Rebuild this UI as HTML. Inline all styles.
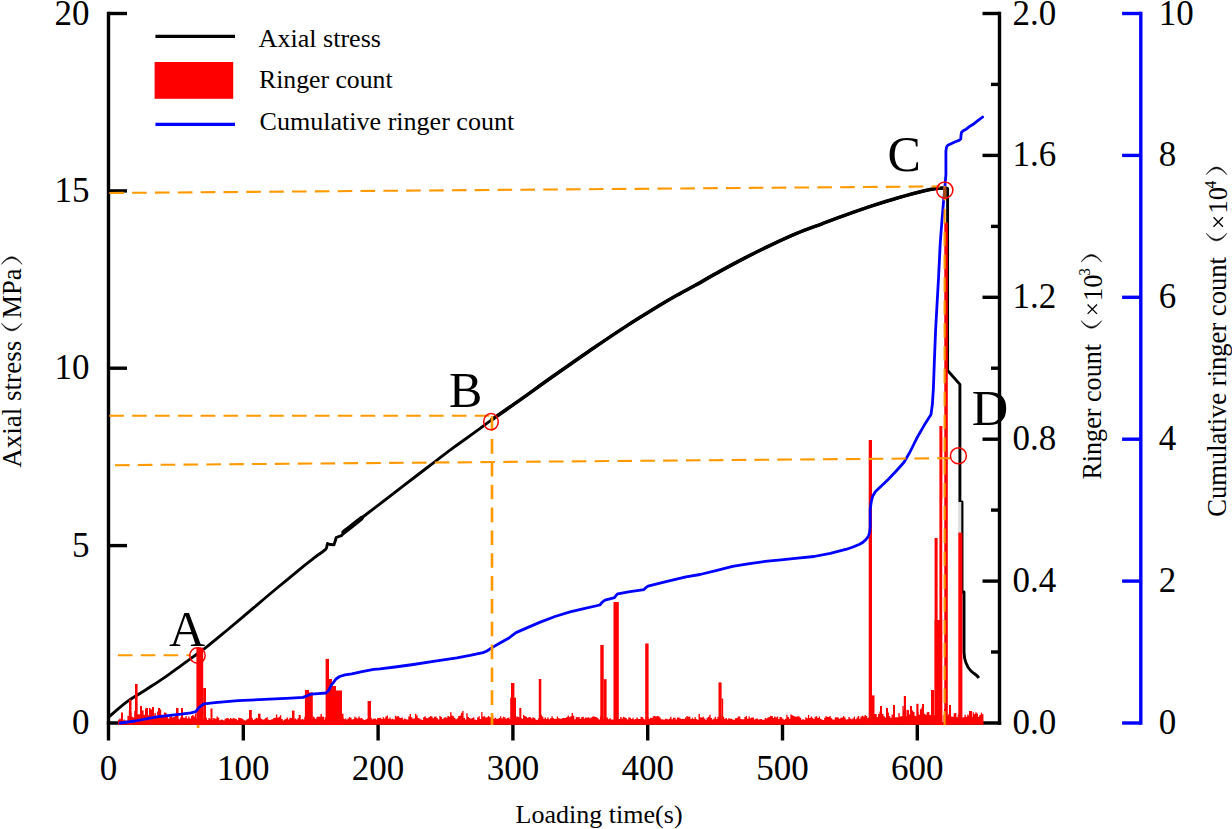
<!DOCTYPE html>
<html lang="en">
<head>
<meta charset="utf-8">
<title>Axial stress and ringer count vs loading time</title>
<style>html,body{margin:0;padding:0;background:#fff;}body{width:1232px;height:829px;overflow:hidden;font-family:"Liberation Serif",serif;}svg{display:block;}</style>
</head>
<body>
<svg width="1232" height="829" viewBox="0 0 1232 829" role="img" aria-label="Axial stress, ringer count and cumulative ringer count versus loading time">
<rect width="1232" height="829" fill="#fff"/>
<path d="M343.6 532.4L350.7 526.9L356 522.6L361.5 518.2" fill="none" stroke="#000" stroke-width="4.6" stroke-linecap="round"/>
<path d="M490.9 420.3C495.1 417.4 506.0 409.9 516.2 402.6C526.5 395.4 540.3 385.3 552.4 376.8C564.5 368.3 576.5 359.8 588.6 351.5C600.7 343.2 612.7 334.9 624.8 327.1C636.9 319.3 651.8 310.2 661.0 304.6C670.2 299.0 674.3 296.8 680.0 293.6C685.7 290.4 688.5 289.1 695.3 285.3C702.1 281.5 712.2 275.5 720.7 270.9C729.2 266.2 737.5 261.8 746.0 257.4C754.5 253.0 762.9 248.8 771.4 244.8C779.9 240.8 788.3 236.9 796.7 233.4C805.1 229.9 813.5 227.0 822.0 223.8C830.5 220.6 838.9 217.4 847.4 214.4C855.9 211.4 864.2 208.5 872.7 205.7C881.2 202.9 889.7 200.2 898.1 197.8C906.5 195.4 917.1 192.5 923.4 191.0C929.7 189.5 932.3 189.1 936.0 188.6C939.7 188.1 944.2 188.1 945.8 188.0" fill="none" stroke="#000" stroke-width="3.5" stroke-linejoin="round"/>
<path d="M108.5 717.2C111.6 714.6 121.0 706.1 127.1 701.6C133.2 697.1 139.2 694.1 145.2 690.2C151.2 686.3 157.3 682.5 163.3 678.4C169.3 674.2 176.3 669.0 181.4 665.3C186.5 661.6 189.6 659.5 194.1 656.2C198.6 652.9 203.2 649.7 208.6 645.4C214.0 641.1 219.1 636.8 226.7 630.5C234.3 624.2 245.5 614.6 254.1 607.4C262.7 600.1 270.2 593.7 278.3 587.0C286.4 580.3 296.4 572.1 302.4 567.2C308.4 562.3 310.6 560.5 314.4 557.6C318.2 554.7 323.5 551.1 325.3 549.8L326.5 548.0L327.5 543.5L330.0 544.5L334.0 544.8L335.2 541.0L336.2 537.5L342.0 535.3L343.5 533.0L344.9 530.3L350.7 526.7C352.5 525.2 356.6 521.8 361.5 518.0C366.4 514.2 373.1 509.1 380.0 503.8C386.9 498.5 394.7 492.4 402.7 486.3C410.7 480.2 419.6 473.4 428.0 467.0C436.4 460.6 444.9 454.0 453.4 447.7C461.9 441.4 472.6 434.0 478.8 429.4C485.1 424.8 484.7 424.8 490.9 420.3C497.1 415.8 506.0 409.9 516.2 402.6C526.5 395.4 540.3 385.3 552.4 376.8C564.5 368.3 576.5 359.8 588.6 351.5C600.7 343.2 612.7 334.9 624.8 327.1C636.9 319.3 651.8 310.2 661.0 304.6C670.2 299.0 674.3 296.8 680.0 293.6C685.7 290.4 688.5 289.1 695.3 285.3C702.1 281.5 712.2 275.5 720.7 270.9C729.2 266.2 737.5 261.8 746.0 257.4C754.5 253.0 762.9 248.8 771.4 244.8C779.9 240.8 788.3 236.9 796.7 233.4C805.1 229.9 813.5 227.0 822.0 223.8C830.5 220.6 838.9 217.4 847.4 214.4C855.9 211.4 864.2 208.5 872.7 205.7C881.2 202.9 889.7 200.2 898.1 197.8C906.5 195.4 917.1 192.5 923.4 191.0C929.7 189.5 932.3 189.1 936.0 188.6C939.7 188.1 944.2 188.1 945.8 188.0L947.6 188.4L947.6 370.5L959.9 384.4L959.9 502L962.0 502L962.0 592L964 592L964 652C964.3 661 967 667 971 671C974 674 977 674.5 978.8 678" fill="none" stroke="#000" stroke-width="2.9" stroke-linejoin="round"/>
<rect x="958.2" y="502" width="3.1" height="31" fill="#dcdcdc"/>
<g stroke="#000" stroke-width="3.4" fill="none" stroke-linecap="butt">
<path d="M108.5 11.8L108.5 740.5"/>
<path d="M106.8 723.0L1001.2 723.0"/>
<path d="M999.5 11.8L999.5 724.7"/>
<path d="M108.5 545.6L127.0 545.6"/>
<path d="M108.5 368.2L127.0 368.2"/>
<path d="M108.5 190.9L127.0 190.9"/>
<path d="M108.5 13.5L127.0 13.5"/>
<path d="M243.3 723.0L243.3 740.5"/>
<path d="M378.1 723.0L378.1 740.5"/>
<path d="M512.9 723.0L512.9 740.5"/>
<path d="M647.7 723.0L647.7 740.5"/>
<path d="M782.5 723.0L782.5 740.5"/>
<path d="M917.3 723.0L917.3 740.5"/>
<path d="M991.0 652.0L999.5 652.0"/>
<path d="M982.5 581.1L999.5 581.1"/>
<path d="M991.0 510.1L999.5 510.1"/>
<path d="M982.5 439.2L999.5 439.2"/>
<path d="M991.0 368.2L999.5 368.2"/>
<path d="M982.5 297.3L999.5 297.3"/>
<path d="M991.0 226.4L999.5 226.4"/>
<path d="M982.5 155.4L999.5 155.4"/>
<path d="M991.0 84.4L999.5 84.4"/>
<path d="M982.5 13.5L999.5 13.5"/>
</g>
<g stroke="#0000ff" stroke-width="3.4" fill="none">
<path d="M1140.8 11.8L1140.8 724.7"/>
<path d="M1122.1 723.0L1140.8 723.0"/>
<path d="M1122.1 581.1L1140.8 581.1"/>
<path d="M1122.1 439.2L1140.8 439.2"/>
<path d="M1122.1 297.3L1140.8 297.3"/>
<path d="M1122.1 155.4L1140.8 155.4"/>
<path d="M1122.1 13.5L1140.8 13.5"/>
</g>
<g fill="#ff0000"><path d="M118 724.7L118.0 719.8 L119.3 719.8L119.3 718.5 L120.7 718.5L120.7 719.3 L122.0 719.3L122.0 720.4 L123.4 720.4L123.4 719.5 L124.7 719.5L124.7 720.5 L126.1 720.5L126.1 720.8 L127.4 720.8L127.4 716.0 L128.8 716.0L128.8 710.8 L130.1 710.8L130.1 712.4 L131.5 712.4L131.5 716.7 L132.8 716.7L132.8 717.5 L134.2 717.5L134.2 711.1 L135.5 711.1L135.5 713.5 L136.9 713.5L136.9 714.2 L138.2 714.2L138.2 714.2 L139.6 714.2L139.6 714.5 L140.9 714.5L140.9 710.5 L142.3 710.5L142.3 710.6 L143.6 710.6L143.6 714.7 L145.0 714.7L145.0 708.4 L146.3 708.4L146.3 713.2 L147.7 713.2L147.7 715.2 L149.0 715.2L149.0 708.0 L150.4 708.0L150.4 709.3 L151.7 709.3L151.7 709.7 L153.1 709.7L153.1 715.7 L154.4 715.7L154.4 712.9 L155.8 712.9L155.8 716.1 L157.1 716.1L157.1 711.4 L158.5 711.4L158.5 715.5 L159.8 715.5L159.8 709.6 L161.2 709.6L161.2 714.7 L162.5 714.7L162.5 715.1 L163.9 715.1L163.9 712.6 L165.2 712.6L165.2 712.7 L166.6 712.7L166.6 716.9 L167.9 716.9L167.9 718.6 L169.3 718.6L169.3 716.4 L170.6 716.4L170.6 715.4 L172.0 715.4L172.0 717.5 L173.3 717.5L173.3 717.1 L174.7 717.1L174.7 715.1 L176.0 715.1L176.0 717.9 L177.4 717.9L177.4 718.5 L178.7 718.5L178.7 719.3 L180.1 719.3L180.1 717.6 L181.4 717.6L181.4 717.0 L182.8 717.0L182.8 717.6 L184.1 717.6L184.1 717.7 L185.5 717.7L185.5 715.9 L186.8 715.9L186.8 718.4 L188.2 718.4L188.2 716.5 L189.5 716.5L189.5 718.4 L190.9 718.4L190.9 715.9 L192.2 715.9L192.2 714.9 L193.6 714.9L193.6 716.5 L194.9 716.5L194.9 713.5 L196.3 713.5L196.3 718.4 L197.6 718.4L197.6 720.0 L199.0 720.0L199.0 719.0 L200.3 719.0L200.3 719.9 L201.7 719.9L201.7 720.5 L203.0 720.5L203.0 719.3 L204.4 719.3L204.4 718.7 L205.7 718.7L205.7 717.7 L207.1 717.7L207.1 720.0 L208.4 720.0L208.4 718.1 L209.8 718.1L209.8 719.1 L211.1 719.1L211.1 720.2 L212.5 720.2L212.5 718.2 L213.8 718.2L213.8 718.3 L215.2 718.3L215.2 718.8 L216.5 718.8L216.5 716.6 L217.9 716.6L217.9 717.8 L219.2 717.8L219.2 720.2 L220.6 720.2L220.6 719.5 L221.9 719.5L221.9 719.7 L223.3 719.7L223.3 720.4 L224.6 720.4L224.6 718.7 L226.0 718.7L226.0 718.2 L227.3 718.2L227.3 718.0 L228.7 718.0L228.7 719.3 L230.0 719.3L230.0 718.0 L231.4 718.0L231.4 719.0 L232.7 719.0L232.7 718.0 L234.1 718.0L234.1 718.4 L235.4 718.4L235.4 718.8 L236.8 718.8L236.8 720.2 L238.1 720.2L238.1 717.8 L239.5 717.8L239.5 718.0 L240.8 718.0L240.8 718.2 L242.2 718.2L242.2 719.1 L243.5 719.1L243.5 720.3 L244.9 720.3L244.9 720.6 L246.2 720.6L246.2 719.5 L247.6 719.5L247.6 718.5 L248.9 718.5L248.9 718.6 L250.3 718.6L250.3 717.8 L251.6 717.8L251.6 718.2 L253.0 718.2L253.0 719.9 L254.3 719.9L254.3 718.9 L255.7 718.9L255.7 717.7 L257.0 717.7L257.0 718.3 L258.4 718.3L258.4 719.2 L259.7 719.2L259.7 717.9 L261.1 717.9L261.1 719.1 L262.4 719.1L262.4 719.8 L263.8 719.8L263.8 719.3 L265.1 719.3L265.1 718.0 L266.5 718.0L266.5 717.3 L267.8 717.3L267.8 719.6 L269.2 719.6L269.2 720.0 L270.5 720.0L270.5 719.6 L271.9 719.6L271.9 719.2 L273.2 719.2L273.2 718.1 L274.6 718.1L274.6 717.8 L275.9 717.8L275.9 714.5 L277.3 714.5L277.3 717.7 L278.6 717.7L278.6 716.7 L280.0 716.7L280.0 715.2 L281.3 715.2L281.3 718.9 L282.7 718.9L282.7 720.5 L284.0 720.5L284.0 719.6 L285.4 719.6L285.4 718.7 L286.7 718.7L286.7 717.5 L288.1 717.5L288.1 719.5 L289.4 719.5L289.4 717.8 L290.8 717.8L290.8 718.0 L292.2 718.0L292.2 719.6 L293.5 719.6L293.5 718.7 L294.9 718.7L294.9 718.6 L296.2 718.6L296.2 719.4 L297.6 719.4L297.6 717.9 L298.9 717.9L298.9 717.4 L300.3 717.4L300.3 719.7 L301.6 719.7L301.6 719.0 L303.0 719.0L303.0 719.4 L304.3 719.4L304.3 716.9 L305.7 716.9L305.7 715.9 L307.0 715.9L307.0 717.0 L308.4 717.0L308.4 717.1 L309.7 717.1L309.7 717.3 L311.1 717.3L311.1 719.0 L312.4 719.0L312.4 716.4 L313.8 716.4L313.8 717.4 L315.1 717.4L315.1 718.8 L316.5 718.8L316.5 716.9 L317.8 716.9L317.8 719.1 L319.2 719.1L319.2 718.3 L320.5 718.3L320.5 713.9 L321.9 713.9L321.9 718.4 L323.2 718.4L323.2 719.7 L324.6 719.7L324.6 717.3 L325.9 717.3L325.9 719.0 L327.3 719.0L327.3 717.6 L328.6 717.6L328.6 717.1 L330.0 717.1L330.0 718.0 L331.3 718.0L331.3 719.5 L332.7 719.5L332.7 718.4 L334.0 718.4L334.0 717.2 L335.4 717.2L335.4 717.8 L336.7 717.8L336.7 717.9 L338.1 717.9L338.1 718.5 L339.4 718.5L339.4 716.6 L340.8 716.6L340.8 716.2 L342.1 716.2L342.1 717.7 L343.5 717.7L343.5 719.2 L344.8 719.2L344.8 718.4 L346.2 718.4L346.2 719.6 L347.5 719.6L347.5 718.5 L348.9 718.5L348.9 716.9 L350.2 716.9L350.2 717.8 L351.6 717.8L351.6 719.6 L352.9 719.6L352.9 718.9 L354.3 718.9L354.3 716.5 L355.6 716.5L355.6 717.8 L357.0 717.8L357.0 718.4 L358.3 718.4L358.3 716.6 L359.7 716.6L359.7 718.3 L361.0 718.3L361.0 717.9 L362.4 717.9L362.4 719.3 L363.7 719.3L363.7 720.0 L365.1 720.0L365.1 719.5 L366.4 719.5L366.4 719.1 L367.8 719.1L367.8 717.9 L369.1 717.9L369.1 717.1 L370.5 717.1L370.5 717.8 L371.8 717.8L371.8 719.2 L373.2 719.2L373.2 718.7 L374.5 718.7L374.5 718.5 L375.9 718.5L375.9 719.4 L377.2 719.4L377.2 718.0 L378.6 718.0L378.6 717.9 L379.9 717.9L379.9 717.7 L381.3 717.7L381.3 719.0 L382.6 719.0L382.6 717.2 L384.0 717.2L384.0 718.5 L385.3 718.5L385.3 716.6 L386.7 716.6L386.7 715.6 L388.0 715.6L388.0 718.8 L389.4 718.8L389.4 717.6 L390.7 717.6L390.7 719.2 L392.1 719.2L392.1 718.8 L393.4 718.8L393.4 719.5 L394.8 719.5L394.8 715.7 L396.1 715.7L396.1 716.6 L397.5 716.6L397.5 716.0 L398.8 716.0L398.8 717.6 L400.2 717.6L400.2 718.1 L401.5 718.1L401.5 717.5 L402.9 717.5L402.9 719.4 L404.2 719.4L404.2 718.5 L405.6 718.5L405.6 719.3 L406.9 719.3L406.9 719.5 L408.3 719.5L408.3 716.4 L409.6 716.4L409.6 714.1 L411.0 714.1L411.0 717.3 L412.3 717.3L412.3 718.8 L413.7 718.8L413.7 718.3 L415.0 718.3L415.0 713.8 L416.4 713.8L416.4 715.5 L417.7 715.5L417.7 717.9 L419.1 717.9L419.1 718.5 L420.4 718.5L420.4 719.4 L421.8 719.4L421.8 720.0 L423.1 720.0L423.1 717.3 L424.5 717.3L424.5 716.3 L425.8 716.3L425.8 718.1 L427.2 718.1L427.2 718.2 L428.5 718.2L428.5 716.9 L429.9 716.9L429.9 716.1 L431.2 716.1L431.2 716.5 L432.6 716.5L432.6 718.2 L433.9 718.2L433.9 716.7 L435.3 716.7L435.3 716.6 L436.6 716.6L436.6 718.2 L438.0 718.2L438.0 719.6 L439.3 719.6L439.3 716.0 L440.7 716.0L440.7 716.9 L442.0 716.9L442.0 718.9 L443.4 718.9L443.4 717.8 L444.7 717.8L444.7 717.3 L446.1 717.3L446.1 717.8 L447.4 717.8L447.4 716.0 L448.8 716.0L448.8 716.8 L450.1 716.8L450.1 712.3 L451.5 712.3L451.5 715.6 L452.8 715.6L452.8 716.2 L454.2 716.2L454.2 718.1 L455.5 718.1L455.5 719.2 L456.9 719.2L456.9 718.2 L458.2 718.2L458.2 716.1 L459.6 716.1L459.6 715.5 L460.9 715.5L460.9 712.8 L462.3 712.8L462.3 711.0 L463.6 711.0L463.6 717.7 L465.0 717.7L465.0 719.6 L466.3 719.6L466.3 713.3 L467.7 713.3L467.7 717.0 L469.0 717.0L469.0 717.9 L470.4 717.9L470.4 718.8 L471.7 718.8L471.7 718.1 L473.1 718.1L473.1 717.2 L474.4 717.2L474.4 719.4 L475.8 719.4L475.8 720.0 L477.1 720.0L477.1 717.5 L478.5 717.5L478.5 716.2 L479.8 716.2L479.8 719.1 L481.2 719.1L481.2 712.1 L482.5 712.1L482.5 716.6 L483.9 716.6L483.9 716.2 L485.2 716.2L485.2 717.5 L486.6 717.5L486.6 717.2 L487.9 717.2L487.9 715.9 L489.3 715.9L489.3 717.2 L490.6 717.2L490.6 717.5 L492.0 717.5L492.0 715.8 L493.3 715.8L493.3 718.8 L494.7 718.8L494.7 717.8 L496.0 717.8L496.0 718.8 L497.4 718.8L497.4 718.7 L498.7 718.7L498.7 718.1 L500.1 718.1L500.1 716.2 L501.4 716.2L501.4 718.5 L502.8 718.5L502.8 716.8 L504.1 716.8L504.1 717.2 L505.5 717.2L505.5 718.8 L506.8 718.8L506.8 718.1 L508.2 718.1L508.2 717.6 L509.5 717.6L509.5 719.1 L510.9 719.1L510.9 716.4 L512.2 716.4L512.2 714.4 L513.6 714.4L513.6 718.1 L514.9 718.1L514.9 717.9 L516.3 717.9L516.3 716.2 L517.6 716.2L517.6 716.9 L519.0 716.9L519.0 717.4 L520.3 717.4L520.3 718.1 L521.7 718.1L521.7 718.7 L523.0 718.7L523.0 715.1 L524.4 715.1L524.4 716.0 L525.7 716.0L525.7 716.7 L527.1 716.7L527.1 718.1 L528.4 718.1L528.4 717.0 L529.8 717.0L529.8 717.2 L531.1 717.2L531.1 718.6 L532.5 718.6L532.5 717.3 L533.8 717.3L533.8 718.1 L535.2 718.1L535.2 719.6 L536.5 719.6L536.5 719.9 L537.9 719.9L537.9 718.3 L539.2 718.3L539.2 717.3 L540.6 717.3L540.6 714.7 L541.9 714.7L541.9 716.6 L543.3 716.6L543.3 718.7 L544.6 718.7L544.6 717.6 L546.0 717.6L546.0 719.1 L547.3 719.1L547.3 717.6 L548.7 717.6L548.7 719.2 L550.0 719.2L550.0 718.2 L551.4 718.2L551.4 716.2 L552.7 716.2L552.7 717.9 L554.1 717.9L554.1 718.9 L555.4 718.9L555.4 718.7 L556.8 718.7L556.8 716.6 L558.1 716.6L558.1 718.2 L559.5 718.2L559.5 718.8 L560.8 718.8L560.8 718.7 L562.2 718.7L562.2 718.0 L563.5 718.0L563.5 717.9 L564.9 717.9L564.9 717.9 L566.2 717.9L566.2 717.0 L567.6 717.0L567.6 715.4 L568.9 715.4L568.9 717.3 L570.3 717.3L570.3 716.2 L571.6 716.2L571.6 713.0 L573.0 713.0L573.0 715.7 L574.3 715.7L574.3 719.2 L575.7 719.2L575.7 716.9 L577.0 716.9L577.0 717.2 L578.4 717.2L578.4 717.0 L579.7 717.0L579.7 718.8 L581.1 718.8L581.1 717.3 L582.4 717.3L582.4 716.8 L583.8 716.8L583.8 718.4 L585.1 718.4L585.1 717.6 L586.5 717.6L586.5 717.8 L587.8 717.8L587.8 717.3 L589.2 717.3L589.2 718.2 L590.5 718.2L590.5 717.6 L591.9 717.6L591.9 716.7 L593.2 716.7L593.2 716.2 L594.6 716.2L594.6 717.1 L595.9 717.1L595.9 717.2 L597.3 717.2L597.3 718.2 L598.6 718.2L598.6 719.4 L600.0 719.4L600.0 716.4 L601.3 716.4L601.3 718.7 L602.7 718.7L602.7 718.7 L604.0 718.7L604.0 713.8 L605.4 713.8L605.4 718.2 L606.7 718.2L606.7 717.4 L608.1 717.4L608.1 719.2 L609.4 719.2L609.4 718.2 L610.8 718.2L610.8 719.5 L612.1 719.5L612.1 719.6 L613.5 719.6L613.5 719.4 L614.8 719.4L614.8 718.0 L616.2 718.0L616.2 719.1 L617.5 719.1L617.5 719.6 L618.9 719.6L618.9 719.1 L620.2 719.1L620.2 717.1 L621.6 717.1L621.6 718.6 L622.9 718.6L622.9 716.7 L624.3 716.7L624.3 717.5 L625.6 717.5L625.6 718.2 L627.0 718.2L627.0 719.6 L628.3 719.6L628.3 717.3 L629.7 717.3L629.7 717.7 L631.0 717.7L631.0 718.9 L632.4 718.9L632.4 717.8 L633.7 717.8L633.7 719.5 L635.1 719.5L635.1 719.0 L636.4 719.0L636.4 717.4 L637.8 717.4L637.8 719.1 L639.1 719.1L639.1 719.1 L640.5 719.1L640.5 716.8 L641.8 716.8L641.8 717.2 L643.2 717.2L643.2 718.8 L644.5 718.8L644.5 719.6 L645.9 719.6L645.9 720.0 L647.2 720.0L647.2 717.2 L648.6 717.2L648.6 719.1 L649.9 719.1L649.9 717.7 L651.3 717.7L651.3 718.0 L652.6 718.0L652.6 716.3 L654.0 716.3L654.0 716.1 L655.3 716.1L655.3 716.6 L656.7 716.6L656.7 716.1 L658.0 716.1L658.0 716.3 L659.4 716.3L659.4 717.6 L660.7 717.6L660.7 719.3 L662.1 719.3L662.1 719.2 L663.4 719.2L663.4 719.7 L664.8 719.7L664.8 718.7 L666.1 718.7L666.1 718.7 L667.5 718.7L667.5 719.6 L668.8 719.6L668.8 718.7 L670.2 718.7L670.2 716.8 L671.5 716.8L671.5 719.3 L672.9 719.3L672.9 717.7 L674.2 717.7L674.2 717.7 L675.6 717.7L675.6 719.6 L676.9 719.6L676.9 717.4 L678.3 717.4L678.3 717.4 L679.6 717.4L679.6 718.5 L681.0 718.5L681.0 719.0 L682.3 719.0L682.3 718.8 L683.7 718.8L683.7 719.1 L685.0 719.1L685.0 717.5 L686.4 717.5L686.4 716.0 L687.7 716.0L687.7 716.7 L689.1 716.7L689.1 716.6 L690.4 716.6L690.4 719.0 L691.8 719.0L691.8 717.8 L693.1 717.8L693.1 719.0 L694.5 719.0L694.5 717.1 L695.8 717.1L695.8 719.1 L697.2 719.1L697.2 719.7 L698.5 719.7L698.5 714.1 L699.9 714.1L699.9 717.2 L701.2 717.2L701.2 717.6 L702.6 717.6L702.6 716.7 L703.9 716.7L703.9 718.4 L705.3 718.4L705.3 719.8 L706.6 719.8L706.6 717.8 L708.0 717.8L708.0 716.8 L709.3 716.8L709.3 714.8 L710.7 714.8L710.7 717.9 L712.0 717.9L712.0 719.6 L713.4 719.6L713.4 718.5 L714.7 718.5L714.7 716.8 L716.1 716.8L716.1 718.9 L717.4 718.9L717.4 716.8 L718.8 716.8L718.8 718.2 L720.1 718.2L720.1 719.5 L721.5 719.5L721.5 716.5 L722.8 716.5L722.8 716.7 L724.2 716.7L724.2 719.0 L725.5 719.0L725.5 717.9 L726.9 717.9L726.9 719.4 L728.2 719.4L728.2 718.2 L729.6 718.2L729.6 718.7 L730.9 718.7L730.9 718.8 L732.3 718.8L732.3 719.5 L733.6 719.5L733.6 719.7 L735.0 719.7L735.0 718.3 L736.3 718.3L736.3 717.9 L737.7 717.9L737.7 716.4 L739.0 716.4L739.0 716.4 L740.4 716.4L740.4 719.0 L741.7 719.0L741.7 719.3 L743.1 719.3L743.1 719.3 L744.4 719.3L744.4 717.1 L745.8 717.1L745.8 716.1 L747.1 716.1L747.1 718.8 L748.5 718.8L748.5 716.6 L749.8 716.6L749.8 718.3 L751.2 718.3L751.2 717.4 L752.5 717.4L752.5 717.5 L753.9 717.5L753.9 719.5 L755.2 719.5L755.2 718.7 L756.6 718.7L756.6 718.6 L757.9 718.6L757.9 719.4 L759.3 719.4L759.3 719.3 L760.6 719.3L760.6 719.0 L762.0 719.0L762.0 719.8 L763.3 719.8L763.3 719.8 L764.7 719.8L764.7 718.1 L766.0 718.1L766.0 718.4 L767.4 718.4L767.4 717.5 L768.7 717.5L768.7 716.9 L770.1 716.9L770.1 715.8 L771.4 715.8L771.4 716.1 L772.8 716.1L772.8 718.0 L774.1 718.0L774.1 716.5 L775.5 716.5L775.5 717.6 L776.8 717.6L776.8 716.5 L778.2 716.5L778.2 719.1 L779.5 719.1L779.5 716.9 L780.9 716.9L780.9 717.3 L782.2 717.3L782.2 718.7 L783.6 718.7L783.6 719.7 L784.9 719.7L784.9 718.7 L786.3 718.7L786.3 714.7 L787.6 714.7L787.6 717.1 L789.0 717.1L789.0 718.8 L790.3 718.8L790.3 714.6 L791.7 714.6L791.7 715.2 L793.0 715.2L793.0 716.1 L794.4 716.1L794.4 716.5 L795.7 716.5L795.7 716.8 L797.1 716.8L797.1 716.2 L798.4 716.2L798.4 716.5 L799.8 716.5L799.8 717.7 L801.1 717.7L801.1 719.6 L802.5 719.6L802.5 719.3 L803.8 719.3L803.8 719.8 L805.2 719.8L805.2 717.3 L806.5 717.3L806.5 718.3 L807.9 718.3L807.9 715.1 L809.2 715.1L809.2 717.9 L810.6 717.9L810.6 716.5 L811.9 716.5L811.9 717.7 L813.3 717.7L813.3 718.9 L814.6 718.9L814.6 716.7 L816.0 716.7L816.0 716.3 L817.3 716.3L817.3 717.9 L818.7 717.9L818.7 716.6 L820.0 716.6L820.0 718.7 L821.4 718.7L821.4 719.5 L822.7 719.5L822.7 719.9 L824.1 719.9L824.1 717.7 L825.4 717.7L825.4 716.2 L826.8 716.2L826.8 716.8 L828.1 716.8L828.1 717.1 L829.5 717.1L829.5 716.0 L830.8 716.0L830.8 718.3 L832.2 718.3L832.2 719.4 L833.5 719.4L833.5 719.4 L834.9 719.4L834.9 717.2 L836.2 717.2L836.2 717.2 L837.6 717.2L837.6 717.6 L838.9 717.6L838.9 718.8 L840.3 718.8L840.3 717.7 L841.6 717.7L841.6 717.4 L843.0 717.4L843.0 716.0 L844.3 716.0L844.3 717.5 L845.7 717.5L845.7 719.6 L847.0 719.6L847.0 719.3 L848.4 719.3L848.4 717.1 L849.7 717.1L849.7 718.6 L851.1 718.6L851.1 719.3 L852.4 719.3L852.4 718.2 L853.8 718.2L853.8 716.5 L855.1 716.5L855.1 719.2 L856.5 719.2L856.5 717.6 L857.8 717.6L857.8 716.1 L859.2 716.1L859.2 718.7 L860.5 718.7L860.5 716.6 L861.9 716.6L861.9 715.7 L863.2 715.7L863.2 716.4 L864.6 716.4L864.6 714.9 L865.9 714.9L865.9 716.1 L867.3 716.1L867.3 718.1 L868.6 718.1L868.6 717.5 L870.0 717.5L870.0 716.8 L871.3 716.8L871.3 713.2 L872.7 713.2L872.7 712.1 L874.0 712.1L874.0 714.1 L875.4 714.1L875.4 714.1 L876.7 714.1L876.7 717.0 L878.1 717.0L878.1 713.9 L879.4 713.9L879.4 711.6 L880.8 711.6L880.8 710.5 L882.1 710.5L882.1 714.1 L883.5 714.1L883.5 716.2 L884.8 716.2L884.8 717.4 L886.2 717.4L886.2 714.9 L887.5 714.9L887.5 712.5 L888.9 712.5L888.9 716.1 L890.2 716.1L890.2 717.7 L891.6 717.7L891.6 714.5 L892.9 714.5L892.9 715.8 L894.3 715.8L894.3 717.4 L895.6 717.4L895.6 717.2 L897.0 717.2L897.0 717.2 L898.3 717.2L898.3 712.9 L899.7 712.9L899.7 716.4 L901.0 716.4L901.0 716.2 L902.4 716.2L902.4 706.1 L903.7 706.1L903.7 710.3 L905.1 710.3L905.1 716.2 L906.4 716.2L906.4 709.7 L907.8 709.7L907.8 710.3 L909.1 710.3L909.1 714.5 L910.5 714.5L910.5 712.8 L911.8 712.8L911.8 710.5 L913.2 710.5L913.2 712.0 L914.5 712.0L914.5 715.7 L915.9 715.7L915.9 716.6 L917.2 716.6L917.2 712.0 L918.6 712.0L918.6 714.8 L919.9 714.8L919.9 709.3 L921.3 709.3L921.3 707.6 L922.6 707.6L922.6 711.8 L924.0 711.8L924.0 713.7 L925.3 713.7L925.3 714.7 L926.7 714.7L926.7 712.3 L928.0 712.3L928.0 712.0 L929.4 712.0L929.4 715.0 L930.7 715.0L930.7 714.6 L932.1 714.6L932.1 716.3 L933.4 716.3L933.4 715.3 L934.8 715.3L934.8 715.0 L936.1 715.0L936.1 711.2 L937.5 711.2L937.5 714.0 L938.8 714.0L938.8 715.9 L940.2 715.9L940.2 714.1 L941.5 714.1L941.5 715.8 L942.9 715.8L942.9 715.0 L944.2 715.0L944.2 708.7 L945.6 708.7L945.6 712.9 L946.9 712.9L946.9 715.3 L948.3 715.3L948.3 714.0 L949.6 714.0L949.6 710.5 L951.0 710.5L951.0 716.5 L952.3 716.5L952.3 716.8 L953.7 716.8L953.7 713.2 L955.0 713.2L955.0 713.1 L956.4 713.1L956.4 717.2 L957.7 717.2L957.7 714.6 L959.1 714.6L959.1 710.6 L960.4 710.6L960.4 714.7 L961.8 714.7L961.8 717.5 L963.1 717.5L963.1 717.3 L964.5 717.3L964.5 714.8 L965.8 714.8L965.8 716.8 L967.2 716.8L967.2 714.6 L968.5 714.6L968.5 715.8 L969.9 715.8L969.9 717.1 L971.2 717.1L971.2 716.8 L972.6 716.8L972.6 712.3 L973.9 712.3L973.9 714.1 L975.3 714.1L975.3 712.3 L976.6 712.3L976.6 713.6 L978.0 713.6L978.0 716.7 L979.3 716.7L979.3 714.9 L980.7 714.9L980.7 712.8 L982.0 712.8L982.0 714.0 L983.4 714.0L983.5 724.7 Z"/><rect x="121.0" y="712.5" width="2.0" height="12.2"/><rect x="129.0" y="699.5" width="2.5" height="25.2"/><rect x="135.0" y="684.0" width="2.6" height="40.7"/><rect x="140.0" y="706.0" width="2.0" height="18.7"/><rect x="146.0" y="708.0" width="2.0" height="16.7"/><rect x="152.0" y="707.0" width="2.0" height="17.7"/><rect x="158.0" y="708.0" width="2.0" height="16.7"/><rect x="176.0" y="708.0" width="2.5" height="16.7"/><rect x="181.0" y="708.0" width="2.0" height="16.7"/><rect x="196.4" y="647.6" width="6.8" height="77.1"/><rect x="203.2" y="688.0" width="2.8" height="36.7"/><rect x="210.5" y="708.5" width="2.0" height="16.2"/><rect x="249.0" y="710.0" width="2.8" height="14.7"/><rect x="258.0" y="713.7" width="2.5" height="11.0"/><rect x="292.0" y="710.6" width="2.5" height="14.1"/><rect x="298.7" y="715.0" width="2.0" height="9.7"/><rect x="304.9" y="690.0" width="4.1" height="34.7"/><rect x="309.0" y="692.4" width="3.8" height="32.3"/><rect x="317.0" y="716.7" width="7.0" height="8.0"/><rect x="325.6" y="658.9" width="3.4" height="65.8"/><rect x="329.0" y="679.0" width="3.0" height="45.7"/><rect x="332.0" y="686.0" width="4.0" height="38.7"/><rect x="336.0" y="690.5" width="6.0" height="34.2"/><rect x="342.0" y="713.7" width="1.5" height="11.0"/><rect x="367.6" y="701.0" width="3.4" height="23.7"/><rect x="510.2" y="697.7" width="5.8" height="27.0"/><rect x="511.0" y="683.0" width="3.4" height="41.7"/><rect x="519.3" y="708.0" width="2.0" height="16.7"/><rect x="538.8" y="679.0" width="2.5" height="45.7"/><rect x="600.3" y="645.0" width="3.4" height="79.7"/><rect x="603.7" y="679.2" width="2.9" height="45.5"/><rect x="613.5" y="602.0" width="5.3" height="122.7"/><rect x="645.2" y="643.5" width="3.4" height="81.2"/><rect x="718.5" y="682.4" width="3.1" height="42.3"/><rect x="721.6" y="698.5" width="1.6" height="26.2"/><rect x="868.7" y="440.0" width="3.3" height="284.7"/><rect x="872.0" y="695.4" width="2.5" height="29.3"/><rect x="880.0" y="706.0" width="2.0" height="18.7"/><rect x="886.0" y="708.0" width="2.0" height="16.7"/><rect x="893.0" y="705.0" width="2.0" height="19.7"/><rect x="903.8" y="696.0" width="2.2" height="28.7"/><rect x="910.0" y="706.0" width="2.0" height="18.7"/><rect x="916.3" y="703.8" width="2.2" height="20.9"/><rect x="922.0" y="704.0" width="2.0" height="20.7"/><rect x="931.0" y="690.0" width="3.0" height="34.7"/><rect x="934.6" y="538.0" width="3.0" height="186.7"/><rect x="934.6" y="620.0" width="7.8" height="104.7"/><rect x="939.4" y="426.0" width="3.0" height="298.7"/><rect x="944.3" y="222.5" width="3.5" height="502.2"/><rect x="958.3" y="532.6" width="4.1" height="192.1"/><rect x="949.0" y="705.0" width="2.0" height="19.7"/><rect x="969.0" y="711.0" width="3.0" height="13.7"/></g>
<rect x="942.5" y="500" width="1" height="222" fill="#fff" opacity="0.9"/>
<path d="M120.0 723.0L135.0 721.0L156.8 716.8L181.0 714.2L191.0 712.8L195.8 711.7L199.0 707.5L203.9 703.8L215.0 702.6L238.0 700.6L259.0 699.7L291.0 698.2L303.0 697.4L306.5 696.0L311.0 694.2L318.0 693.6L326.0 693.0L329.0 690.0L331.0 685.5L333.5 682.4L336.0 679.0L339.6 676.5L345.0 674.8L351.8 673.8L362.0 671.6L373.7 669.3L380.0 668.8L395.0 667.0L413.4 664.5L435.0 661.2L456.9 657.8L470.0 655.4L483.0 652.6L487.0 651.0L491.6 647.9L500.0 643.0L509.0 638.0L512.0 635.6L516.0 632.6L528.0 627.4L540.3 622.1L555.0 616.5L570.0 611.9L585.0 608.4L599.9 605.0L602.0 602.4L605.0 600.2L614.6 597.6L616.0 595.4L617.7 593.8L630.0 591.6L644.0 589.6L646.0 587.6L648.0 586.2L667.0 581.4L686.0 576.8L700.0 574.5L716.0 570.6L732.6 566.3L748.0 563.8L765.0 561.4L781.0 559.8L797.7 558.2L814.0 556.5L830.3 553.3L846.6 549.2L853.0 547.0L859.6 544.3L863.0 542.2L866.1 539.4L868.4 536.2L869.6 532.5L870.2 527.0L870.2 509.3L871.2 502.0L872.6 496.3L875.5 491.6L879.2 488.1L884.0 483.6L888.6 479.0L896.0 471.2L904.0 462.2L910.0 452.0L917.6 436.7L924.0 425.6L931.0 414.5L932.4 404.0L933.4 388.0L934.3 363.3L935.6 330.0L937.0 305.0L938.5 278.5L940.3 242.0L942.0 220.0L943.6 200.7L944.6 190.4L945.9 174.7L945.9 151.0L946.6 147.0L947.8 145.2L955.3 141.7L959.0 140.4L960.8 139.0L961.0 135.5L961.5 132.3L963.5 130.6L966.2 129.2L970.0 126.2L974.0 123.7L978.5 120.2L982.7 117.0" fill="none" stroke="#0000ff" stroke-width="2.8" stroke-linejoin="round" stroke-linecap="round"/>
<g stroke="#ff9900" stroke-width="2.1" fill="none" stroke-dasharray="14.6 8.24">
<path d="M117.9 655.3L190.5 655.3"/>
<path d="M109.3 415.8L492.6 415.8"/>
<path d="M109.3 193.0L940.0 186.4"/>
<path d="M115.0 465.2L950.5 458.2"/>
<path d="M198.1 725.0L198.1 728.0" stroke-width="2.6"/>
<path d="M492.0 416.2L492.0 725.0" stroke-width="2.6"/>
<path d="M944.6 186.0L944.6 725.0" stroke-width="2.1"/>
</g>
<rect x="943.2" y="187.2" width="3.2" height="11" fill="#a5470d"/>
<g stroke="#ff0000" stroke-width="1.5" fill="none">
<ellipse cx="197.5" cy="655.5" rx="7.7" ry="7.7"/>
<ellipse cx="491.0" cy="421.7" rx="7.3" ry="8.1"/>
<ellipse cx="944.8" cy="190.1" rx="8.1" ry="8.1"/>
<ellipse cx="958.4" cy="455.8" rx="8.0" ry="8.0"/>
</g>
<g font-family='"Liberation Serif", serif' fill="#000">
<text x="89.5" y="734.0" font-size="35" text-anchor="end">0</text>
<text x="89.5" y="556.6" font-size="35" text-anchor="end">5</text>
<text x="89.5" y="379.2" font-size="35" text-anchor="end">10</text>
<text x="89.5" y="201.9" font-size="35" text-anchor="end">15</text>
<text x="89.5" y="24.5" font-size="35" text-anchor="end">20</text>
<text x="108.5" y="780" font-size="35" text-anchor="middle">0</text>
<text x="243.3" y="780" font-size="35" text-anchor="middle">100</text>
<text x="378.1" y="780" font-size="35" text-anchor="middle">200</text>
<text x="512.9" y="780" font-size="35" text-anchor="middle">300</text>
<text x="647.7" y="780" font-size="35" text-anchor="middle">400</text>
<text x="782.5" y="780" font-size="35" text-anchor="middle">500</text>
<text x="917.3" y="780" font-size="35" text-anchor="middle">600</text>
<text x="1012.5" y="734.0" font-size="35">0.0</text>
<text x="1158.8" y="734.0" font-size="35">0</text>
<text x="1012.5" y="592.1" font-size="35">0.4</text>
<text x="1158.8" y="592.1" font-size="35">2</text>
<text x="1012.5" y="450.2" font-size="35">0.8</text>
<text x="1158.8" y="450.2" font-size="35">4</text>
<text x="1012.5" y="308.3" font-size="35">1.2</text>
<text x="1158.8" y="308.3" font-size="35">6</text>
<text x="1012.5" y="166.4" font-size="35">1.6</text>
<text x="1158.8" y="166.4" font-size="35">8</text>
<text x="1012.5" y="24.5" font-size="35">2.0</text>
<text x="1158.8" y="24.5" font-size="35">10</text>
<text x="258.6" y="46.6" font-size="26" textLength="122.4" lengthAdjust="spacingAndGlyphs">Axial stress</text>
<text x="259.0" y="88.2" font-size="26" textLength="133.6" lengthAdjust="spacingAndGlyphs">Ringer count</text>
<text x="259.6" y="130.4" font-size="26" textLength="254.6" lengthAdjust="spacingAndGlyphs">Cumulative ringer count</text>
<text x="515.6" y="822.6" font-size="26" textLength="167" lengthAdjust="spacingAndGlyphs">Loading time(s)</text>
<text x="169" y="646" font-size="50">A</text>
<text x="449" y="406.6" font-size="50">B</text>
<text x="887.5" y="171" font-size="50">C</text>
<text x="971.8" y="424.8" font-size="50.5">D</text>
<g transform="translate(21.2 467.8) rotate(-90)"><text font-size="26.5" textLength="127" lengthAdjust="spacingAndGlyphs">Axial stress</text><path d="M144.50 -19.80Q129.40 -9.45 144.50 0.90Q132.40 -9.45 144.50 -19.80Z" fill="#000" stroke="#000" stroke-width="0.5" stroke-linejoin="round"/><text x="149.4" font-size="26.5" textLength="50" lengthAdjust="spacingAndGlyphs">MPa</text><path d="M203.50 -19.80Q218.60 -9.45 203.50 0.90Q215.60 -9.45 203.50 -19.80Z" fill="#000" stroke="#000" stroke-width="0.5" stroke-linejoin="round"/></g>
<g transform="translate(1100.8 479.6) rotate(-90)"><text font-size="26.5" textLength="135.6" lengthAdjust="spacingAndGlyphs">Ringer count</text><path d="M158.90 -19.70Q143.80 -9.40 158.90 0.90Q146.80 -9.40 158.90 -19.70Z" fill="#000" stroke="#000" stroke-width="0.5" stroke-linejoin="round"/><path d="M165.70 -13.20L175.10 -3.80M165.70 -3.80L175.10 -13.20" stroke="#000" stroke-width="1.3" fill="none"/><text x="178.6" y="1" font-size="26.5">10</text><text x="204.0" y="-10.6" font-size="16.5" textLength="7.2" lengthAdjust="spacingAndGlyphs">3</text><path d="M217.60 -19.70Q232.70 -9.40 217.60 0.90Q229.70 -9.40 217.60 -19.70Z" fill="#000" stroke="#000" stroke-width="0.5" stroke-linejoin="round"/></g>
<g transform="translate(1226.0 516.8) rotate(-90)"><text font-size="26.5" textLength="259.7" lengthAdjust="spacingAndGlyphs">Cumulative ringer count</text><path d="M283.50 -19.80Q268.40 -9.45 283.50 0.90Q271.40 -9.45 283.50 -19.80Z" fill="#000" stroke="#000" stroke-width="0.5" stroke-linejoin="round"/><path d="M290.10 -12.50L299.50 -3.10M290.10 -3.10L299.50 -12.50" stroke="#000" stroke-width="1.3" fill="none"/><text x="303.2" y="1" font-size="26.5">10</text><text x="328.2" y="-10.2" font-size="16.5" textLength="7.8" lengthAdjust="spacingAndGlyphs">4</text><path d="M342.20 -19.80Q357.30 -9.45 342.20 0.90Q354.30 -9.45 342.20 -19.80Z" fill="#000" stroke="#000" stroke-width="0.5" stroke-linejoin="round"/></g>
</g>
<path d="M155.4 36.4L235 36.4" stroke="#000" stroke-width="3.2"/>
<rect x="154.6" y="62" width="78.6" height="36.8" fill="#ff0000"/>
<path d="M155.4 124.4L235 124.4" stroke="#0000ff" stroke-width="3.2"/>
</svg>
</body>
</html>
